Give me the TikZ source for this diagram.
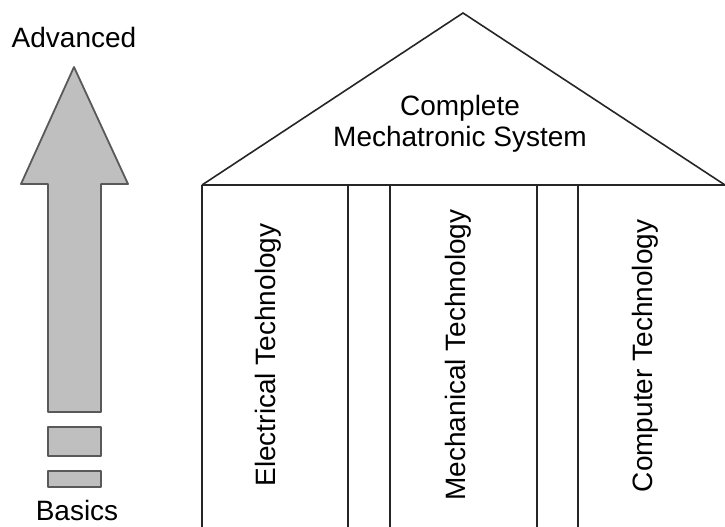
\documentclass[tikz,border=0pt]{standalone}
\usepackage{fontspec}
\setmainfont{Liberation Sans}
\begin{document}
\begin{tikzpicture}[x=1pt,y=-1pt,
  lbl/.style={font=\fontsize{28}{31}\selectfont, inner sep=0pt, text=black},
  wall/.style={draw=black!85, line width=1.6pt},
  grayblock/.style={draw=black!65, fill=black!25, line width=1.8pt, line join=round}]
\useasboundingbox (0,0) rectangle (725,527);
% arrow
\draw[grayblock] (74,67) -- (128,184) -- (101,184) -- (101,412) -- (48,412) -- (48,184) -- (21,184) -- cycle;
\draw[grayblock] (48,427) rectangle (101,456);
\draw[grayblock] (48,471) rectangle (101,487);
\node[lbl, anchor=base] (adv) at (74,48) {Advanced};
\node[lbl, anchor=base] (bas) at (77,520) {Basics};
% house
\coordinate (apex) at (463,13);
\coordinate (bl) at (202,185);
\coordinate (br) at (725,185);
\draw[wall] (bl) -- (apex) -- (br);
\draw[wall] (bl) -- (br);
\foreach \x in {202,348,390,537,578}
  \draw[wall] (\x,185) -- (\x,528);
\node[lbl, anchor=base] (roof1) at (460,115) {Complete};
\node[lbl, anchor=base] (roof2) at (460,146) {Mechatronic System};
\node[lbl, anchor=base, rotate=90] (elec) at (275,355) {Electrical Technology};
\node[lbl, anchor=base, rotate=90] (mech) at (465,355) {Mechanical Technology};
\node[lbl, anchor=base, rotate=90] (comp) at (652,356) {Computer Technology};
\end{tikzpicture}
\end{document}
